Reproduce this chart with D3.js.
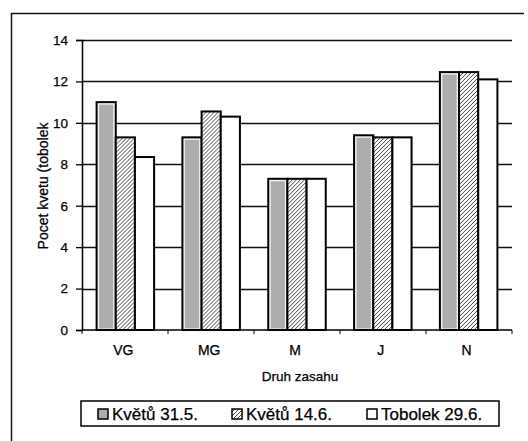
<!DOCTYPE html>
<html>
<head>
<meta charset="utf-8">
<script src="https://cdn.jsdelivr.net/npm/d3@7"></script>
<style>
  html, body { margin: 0; padding: 0; background: #fff; }
  svg { display: block; font-family: "Liberation Sans", Arial, sans-serif; }
  svg text { stroke: #000; stroke-width: 0.25px; }
</style>
</head>
<body>
<svg id="chart" width="528" height="441"></svg>
<script>
// Categories (treatment type) and the three measurement series
const categories = ["VG", "MG", "M", "J", "N"];
const seriesNames = ["Květů 31.5.", "Květů 14.6.", "Tobolek 29.6."];
const kvetu315 = [11.0, 9.3, 7.3, 9.4, 12.45];
const kvetu146 = [9.3, 10.55, 7.3, 9.3, 12.45];
const tobolek296 = [8.35, 10.3, 7.3, 9.3, 12.1];
const yTicks = [0, 2, 4, 6, 8, 10, 12, 14];

const series = [kvetu315, kvetu146, tobolek296];

const svg = d3.select("#chart");

// Outer chart frame
svg.append("line").attr("x1", 11).attr("x2", 524).attr("y1", 13.5).attr("y2", 13.5)
  .attr("stroke", "#111").attr("stroke-width", 1.5);
svg.append("line").attr("x1", 11.5).attr("x2", 11.5).attr("y1", 13).attr("y2", 441)
  .attr("stroke", "#111").attr("stroke-width", 1.5);

const plot = { left: 82, right: 512, top: 40, bottom: 330 };

const x = d3.scaleBand().domain(categories).range([plot.left, plot.right])
  .paddingInner(0.33).paddingOuter(0.17);
const xs = d3.scaleBand().domain(d3.range(series.length)).range([0, x.bandwidth()]);
const y = d3.scaleLinear().domain([0, 14]).range([plot.bottom, plot.top]);

// Hatch pattern for the second series
const defs = svg.append("defs");
const pat = defs.append("pattern").attr("id", "hatch").attr("patternUnits", "userSpaceOnUse")
  .attr("width", 4).attr("height", 4);
pat.append("rect").attr("width", 4).attr("height", 4).attr("fill", "#fff");
pat.append("path").attr("d", "M-1,1 l2,-2 M0,4 l4,-4 M3,5 l2,-2")
  .attr("stroke", "#333").attr("stroke-width", 0.9);

// Horizontal gridlines
svg.append("g").selectAll("line").data(yTicks.filter(d => d > 0)).join("line")
  .attr("x1", plot.left).attr("x2", plot.right)
  .attr("y1", d => Math.round(y(d)) + 0.5).attr("y2", d => Math.round(y(d)) + 0.5)
  .attr("stroke", "#111").attr("stroke-width", 1.5);

// Bars
const groups = svg.append("g").selectAll("g").data(categories).join("g")
  .attr("transform", d => `translate(${x(d)},0)`);

groups.each(function(cat, ci) {
  const g = d3.select(this);
  series.forEach((vals, si) => {
    const v = vals[ci];
    const bx = xs(si), bw = xs.bandwidth();
    g.append("rect")
      .attr("x", bx).attr("y", y(v)).attr("width", bw).attr("height", y(0) - y(v))
      .attr("fill", si === 0 ? "#f2f2f2" : si === 1 ? "url(#hatch)" : "#fff")
      .attr("stroke", "#000").attr("stroke-width", 2);
    if (si === 0) {
      g.append("rect")
        .attr("x", bx + 2.5).attr("y", y(v) + 2.5).attr("width", bw - 5)
        .attr("height", y(0) - y(v) - 4)
        .attr("fill", "#adadad");
    }
  });
});

// Y axis
const yAxis = d3.axisLeft(y).tickValues(yTicks).tickSize(6).tickPadding(8);
const ya = svg.append("g").attr("transform", `translate(${plot.left},0)`).call(yAxis);
ya.select(".domain").attr("stroke", "#000").attr("stroke-width", 1.5);
ya.selectAll(".tick line").attr("stroke", "#000").attr("stroke-width", 1.3);
ya.selectAll("text").attr("font-size", 13.5).attr("fill", "#000");

// X axis with tick marks at category boundaries
const xa = svg.append("g").attr("transform", `translate(0,${plot.bottom})`);
xa.append("line").attr("x1", plot.left).attr("x2", plot.right)
  .attr("stroke", "#000").attr("stroke-width", 1.6);
xa.selectAll(".bt").data(d3.range(categories.length + 1)).join("line")
  .attr("class", "bt")
  .attr("x1", i => plot.left + i * (plot.right - plot.left) / categories.length)
  .attr("x2", i => plot.left + i * (plot.right - plot.left) / categories.length)
  .attr("y1", 0).attr("y2", 4).attr("stroke", "#000").attr("stroke-width", 1);
xa.selectAll(".cl").data(categories).join("text")
  .attr("class", "cl")
  .attr("x", d => x(d) + x.bandwidth() / 2 - 2)
  .attr("y", 25).attr("text-anchor", "middle")
  .attr("font-size", 14).attr("fill", "#000").text(d => d);

// Axis titles
svg.append("text").attr("x", 300).attr("y", 381).attr("text-anchor", "middle")
  .attr("font-size", 13.5).attr("fill", "#000").text("Druh zasahu");
svg.append("text").attr("transform", "translate(48,186) rotate(-90)")
  .attr("text-anchor", "middle").attr("font-size", 14).attr("fill", "#000")
  .text("Pocet kvetu (tobolek");

// Legend
const legend = svg.append("g");
legend.append("rect").attr("x", 81).attr("y", 401).attr("width", 418).attr("height", 25)
  .attr("fill", "#fff").attr("stroke", "#000").attr("stroke-width", 1.5);
const legendX = [98, 232, 367];
const legendFill = ["#adadad", "url(#hatch)", "#fff"];
seriesNames.forEach((name, i) => {
  legend.append("rect").attr("x", legendX[i]).attr("y", 409).attr("width", 10).attr("height", 10)
    .attr("fill", legendFill[i]).attr("stroke", "#000").attr("stroke-width", 1.5);
  legend.append("text").attr("x", legendX[i] + 14).attr("y", 419.5)
    .attr("font-size", 17).attr("fill", "#000").text(name);
});
</script>
</body>
</html>
